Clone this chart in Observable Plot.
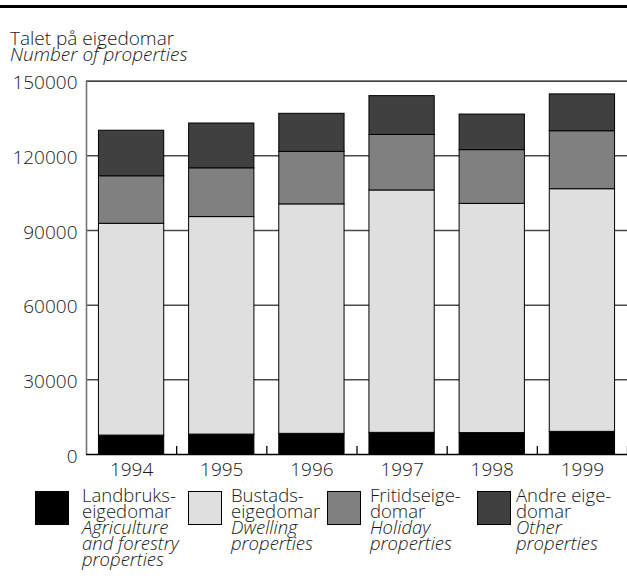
<!DOCTYPE html>
<html>
<head>
<meta charset="utf-8">
<script src="https://cdn.jsdelivr.net/npm/d3@7"></script>
<script src="https://cdn.jsdelivr.net/npm/@observablehq/plot@0.6"></script>
<style>
  html, body { margin: 0; padding: 0; background: #fff; overflow: hidden; }
  body { width: 627px; height: 588px; position: relative; font-family: "Open Sans", Lato, sans-serif; color: #1a1a1a; }
  #topline { position: absolute; left: 0; top: 5px; width: 627px; height: 3px; background: #000; }
  .title { position: absolute; left: 10px; top: 30px; font-size: 19px; line-height: 16px; font-weight: 300; }
  .title div { white-space: nowrap; }
  #chart { position: absolute; left: 0; top: 0; }
  .swatch { position: absolute; width: 34px; height: 34px; top: 491px; box-sizing: border-box; border: 1px solid #000; }
  .ltext { position: absolute; top: 487px; font-size: 18.5px; line-height: 16px; font-weight: 300; white-space: nowrap; z-index: 2; }
  .it { font-style: italic; }
</style>
</head>
<body>
<div id="topline"></div>
<div class="title"><div>Talet på eigedomar</div><div class="it">Number of properties</div></div>
<div id="chart"></div>
<div id="legend"></div>
<script>
// ---- data ----
const years = [1994, 1995, 1996, 1997, 1998, 1999];
const agriculture = [7600, 8000, 8300, 8700, 8600, 9100];
const dwelling = [85100, 87400, 92200, 97400, 92100, 97500];
const holiday = [19100, 19600, 21100, 22300, 21600, 23300];
const other = [18300, 18000, 15300, 15600, 14300, 14800];
const yTicks = [0, 30000, 60000, 90000, 120000, 150000];
const seriesNames = ["agriculture", "dwelling", "holiday", "other"];
const seriesColors = ["#000000", "#dfdfdf", "#808080", "#404040"];
const legendNo = [["Landbruks-", "eigedomar"], ["Bustads-", "eigedomar"], ["Fritidseige-", "domar"], ["Andre eige-", "domar"]];
const legendEn = [["Agriculture", "and forestry", "properties"], ["Dwelling", "properties"], ["Holiday", "properties"], ["Other", "properties"]];

// ---- build stacked table ----
const seriesValues = [agriculture, dwelling, holiday, other];
const rows = [];
years.forEach((yr, i) => {
  let base = 0;
  seriesValues.forEach((vals, s) => {
    rows.push({year: yr, type: seriesNames[s], y1: base, y2: base + vals[i]});
    base += vals[i];
  });
});
const halfBar = 0.362;
const boundaries = years.map(y => y + 0.5);

const chart = Plot.plot({
  width: 627,
  height: 484,
  marginTop: 80.7,
  marginBottom: 30,
  marginLeft: 86,
  marginRight: 0,
  style: {fontFamily: "'Open Sans', Lato, sans-serif", fontSize: "19px", color: "#1a1a1a", background: "transparent", overflow: "visible", fontWeight: 300},
  x: {domain: [years[0] - 0.5, years[years.length - 1] + 0.5], axis: null},
  y: {domain: [0, 150000], axis: null},
  color: {domain: seriesNames, range: seriesColors},
  marks: [
    Plot.ruleY(yTicks.slice(1, -1), {stroke: "#4a4a4a", strokeWidth: 1.5}),
    Plot.rectY(rows, {x1: d => d.year - halfBar, x2: d => d.year + halfBar, y1: "y1", y2: "y2", fill: "type", stroke: "#000", strokeWidth: 1}),
    Plot.ruleY([150000], {stroke: "#000", strokeWidth: 1.3}),
    Plot.ruleX([years[0] - 0.5], {stroke: "#777", strokeWidth: 1.6}),
    Plot.ruleY([0], {stroke: "#000", strokeWidth: 1.6}),
    Plot.axisX({ticks: boundaries, tickSize: -8, tickFormat: () => "", stroke: "#000", strokeWidth: 1.3}),
    Plot.axisX({ticks: years, tickSize: 0, tickPadding: 8, tickFormat: d => String(d)}),
    Plot.axisY({ticks: yTicks, tickSize: 0, tickPadding: 9, tickFormat: d => String(d), dy: 2})
  ]
});
document.getElementById("chart").appendChild(chart);

// ---- legend ----
const swatchX = [35, 188, 327, 477];
const textX = [82, 231, 370, 516];
const legend = document.getElementById("legend");
seriesNames.forEach((name, s) => {
  const sw = document.createElement("div");
  sw.className = "swatch";
  sw.style.left = swatchX[s] + "px";
  sw.style.background = seriesColors[s];
  legend.appendChild(sw);
  const t = document.createElement("div");
  t.className = "ltext";
  t.style.left = textX[s] + "px";
  legendNo[s].forEach(l => { const d = document.createElement("div"); d.textContent = l; t.appendChild(d); });
  legendEn[s].forEach(l => { const d = document.createElement("div"); d.textContent = l; d.className = "it"; t.appendChild(d); });
  legend.appendChild(t);
});
</script>
</body>
</html>
